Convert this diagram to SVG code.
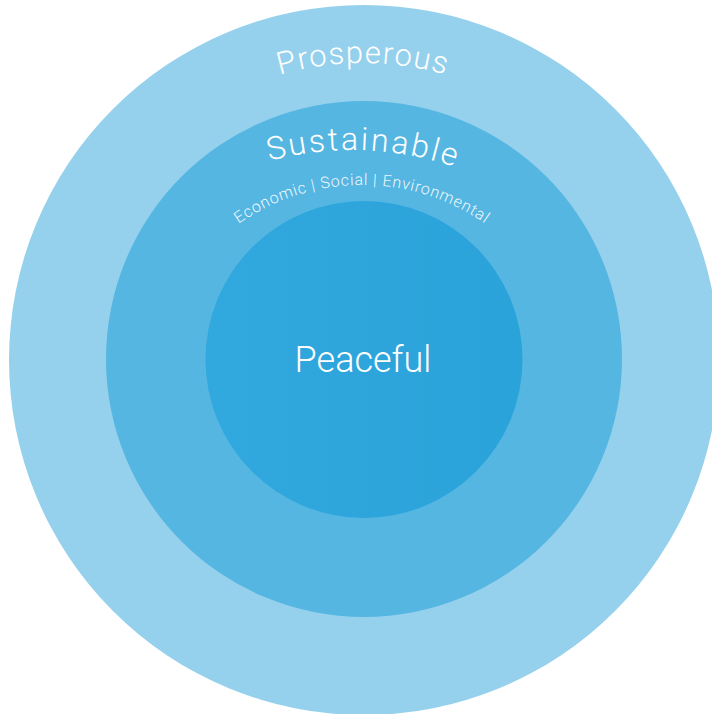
<svg xmlns="http://www.w3.org/2000/svg" width="712" height="714" viewBox="0 0 712 714">
  <style>
    .label { fill: #ffffff; font-family: Roboto, "Liberation Sans", Arial, sans-serif; font-weight: 300; }
    .ring-outer { fill: #95d1ed; }
    .ring-middle { fill: #56b6e2; }
    .ring-inner { fill: url(#innerFill); }
  </style>
  <defs>
    <linearGradient id="innerFill" x1="0" y1="0" x2="1" y2="0">
      <stop offset="0" stop-color="#31a8de"/>
      <stop offset="1" stop-color="#2aa3da"/>
    </linearGradient>
    <!-- baseline arcs for the curved labels -->
    <path id="arcProsperous" d="M170.8,133 A299,299 0 0,1 555.2,133"/>
    <path id="arcSustainable" d="M155.2,217.7 A320,320 0 0,1 566.3,232.4"/>
    <path id="arcPillars" d="M175.8,292.5 A215,215 0 0,1 548.2,292.5"/>
  </defs>

  <rect width="712" height="714" fill="#ffffff"/>

  <g id="prosperous">
    <circle class="ring-outer" cx="364" cy="360" r="355"/>
    <text class="label" font-size="31" letter-spacing="1.3" text-anchor="middle">
      <textPath href="#arcProsperous" startOffset="50%">Prosperous</textPath>
    </text>
  </g>

  <g id="sustainable">
    <circle class="ring-middle" cx="364" cy="359" r="258"/>
    <text class="label" font-size="32" letter-spacing="2.4" text-anchor="middle">
      <textPath href="#arcSustainable" startOffset="50%">Sustainable</textPath>
    </text>
    <text class="label" font-size="16" letter-spacing="0.8" text-anchor="middle" fill-opacity="0.92">
      <textPath href="#arcPillars" startOffset="50%">Economic  |  Social  |  Environmental</textPath>
    </text>
  </g>

  <g id="peaceful">
    <circle class="ring-inner" cx="364" cy="359.5" r="158.5"/>
    <text class="label" x="363" y="372" font-size="36" text-anchor="middle">Peaceful</text>
  </g>
</svg>
